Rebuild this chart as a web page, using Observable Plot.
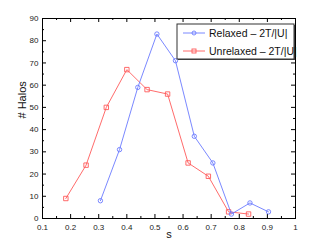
<!DOCTYPE html>
<html><head><meta charset="utf-8">
<script src="https://cdn.jsdelivr.net/npm/d3@7"></script>
<script src="https://cdn.jsdelivr.net/npm/@observablehq/plot@0.6"></script>
<style>body{margin:0;background:#fff;} #c{position:relative;width:327px;height:246px;}</style>
</head><body><div id="c"></div>
<script>
const relaxedS = [0.306, 0.374, 0.439, 0.507, 0.573, 0.640, 0.706, 0.772, 0.838, 0.904];
const relaxedN = [8, 31, 59, 83, 71, 37, 25, 2, 7, 3];
const unrelaxedS = [0.183, 0.255, 0.327, 0.400, 0.472, 0.545, 0.618, 0.690, 0.762, 0.833];
const unrelaxedN = [9, 24, 50, 67, 58, 56, 25, 19, 3, 2];
const xTicks = [0.1,0.2,0.3,0.4,0.5,0.6,0.7,0.8,0.9,1];
const xTickLabels = ["0.1","0.2","0.3","0.4","0.5","0.6","0.7","0.8","0.9","1"];
const xMinor = [0.15,0.25,0.35,0.45,0.55,0.65,0.75,0.85,0.95];
const yTicks = [0,10,20,30,40,50,60,70,80,90];
const yMinor = [5,15,25,35,45,55,65,75,85];
const seriesNames = ["Relaxed \u2013 2T/|U|", "Unrelaxed \u2013 2T/|U|"];
const blue = "#6b7bff", red = "#ff5a5a";

const rel = relaxedS.map((s,i)=>({s, n: relaxedN[i]}));
const unr = unrelaxedS.map((s,i)=>({s, n: unrelaxedN[i]}));

const W = 327, H = 246, mL = 42, mR = 32, mT = 18, mB = 28;
const pw = W - mL - mR, ph = H - mT - mB;
const maj = 4, mnr = 2;
const font = "Liberation Sans, Arial, Helvetica, sans-serif";

const plot = Plot.plot({
  width: W, height: H,
  marginLeft: mL, marginRight: mR, marginTop: mT, marginBottom: mB,
  style: {fontFamily: font, background: "#fff", color: "#222"},
  x: {domain: [0.1, 1]},
  y: {domain: [0, 90]},
  marks: [
    Plot.axisX(xTicks, {tickSize: 0, tickPadding: 6, tickFormat: (d)=>xTickLabels[xTicks.indexOf(d)], fontSize: 8, label: null}),
    Plot.axisY(yTicks, {tickSize: 0, tickPadding: 4, fontSize: 8, label: null}),
    Plot.ruleX(xTicks, {x: d=>d, insetTop: ph - maj, stroke: "#000"}),
    Plot.ruleX(xTicks, {x: d=>d, insetBottom: ph - maj, stroke: "#000"}),
    Plot.ruleX(xMinor, {x: d=>d, insetTop: ph - mnr, stroke: "#000"}),
    Plot.ruleX(xMinor, {x: d=>d, insetBottom: ph - mnr, stroke: "#000"}),
    Plot.ruleY(yTicks, {y: d=>d, insetRight: pw - maj, stroke: "#000"}),
    Plot.ruleY(yTicks, {y: d=>d, insetLeft: pw - maj, stroke: "#000"}),
    Plot.ruleY(yMinor, {y: d=>d, insetRight: pw - mnr, stroke: "#000"}),
    Plot.ruleY(yMinor, {y: d=>d, insetLeft: pw - mnr, stroke: "#000"}),
    Plot.frame({stroke: "#000"}),
    Plot.line(unr, {x: "s", y: "n", stroke: red, strokeWidth: 0.9}),
    Plot.dot(unr, {x: "s", y: "n", stroke: red, symbol: "square", r: 2.5, strokeWidth: 0.9}),
    Plot.line(rel, {x: "s", y: "n", stroke: blue, strokeWidth: 0.9}),
    Plot.dot(rel, {x: "s", y: "n", stroke: blue, symbol: "circle", r: 2.2, strokeWidth: 0.9}),
    Plot.text(["s"], {text: d=>d, frameAnchor: "bottom", dy: 19, fontSize: 11, fill: "#111"}),
    Plot.text(["# Halos"], {text: d=>d, frameAnchor: "left", dx: -20, rotate: -90, fontSize: 11, fill: "#111"})
  ]
});
document.getElementById("c").appendChild(plot);

// legend
const svg = d3.select(plot);
const lg = svg.append("g").attr("transform", "translate(177,24)").attr("text-anchor", "start");
lg.append("rect").attr("x", 1).attr("y", 1).attr("width", 117).attr("height", 35).attr("fill", "#444");
lg.append("rect").attr("x", 0).attr("y", 0).attr("width", 117).attr("height", 35).attr("fill", "#fff").attr("stroke", "#333").attr("stroke-width", 1);
[[blue, "circle"], [red, "square"]].forEach(([c, sym], i) => {
  const yy = 9 + i * 18;
  lg.append("line").attr("x1", 6).attr("x2", 28).attr("y1", yy).attr("y2", yy).attr("stroke", c).attr("stroke-width", 0.9);
  if (sym === "circle") lg.append("circle").attr("cx", 17).attr("cy", yy).attr("r", 2).attr("fill", "none").attr("stroke", c).attr("stroke-width", 0.9);
  else lg.append("rect").attr("x", 15).attr("y", yy - 2).attr("width", 4).attr("height", 4).attr("fill", "none").attr("stroke", c).attr("stroke-width", 0.9);
  lg.append("text").attr("x", 32).attr("y", yy).attr("dy", "0.36em").attr("font-size", 10.5).attr("font-family", font).attr("fill", "#111").attr("text-anchor", "start").text(seriesNames[i]);
});
</script></body></html>
